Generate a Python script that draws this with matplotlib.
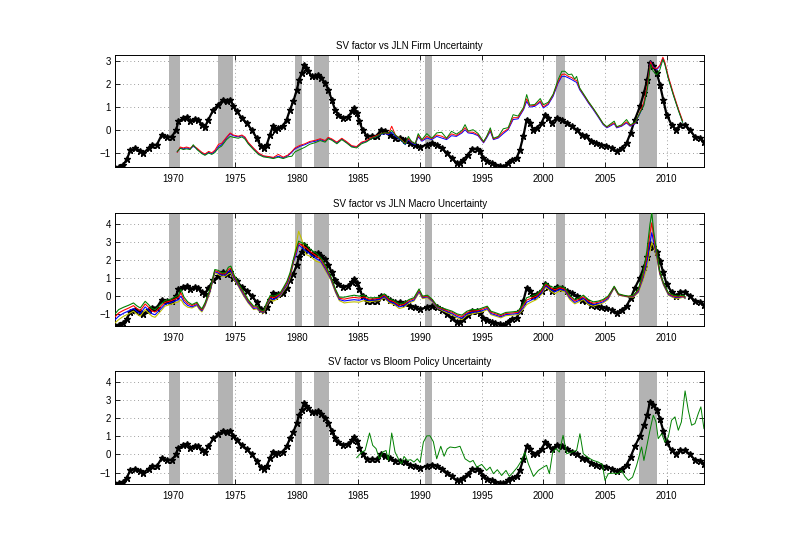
import matplotlib
matplotlib.use('Agg')
from matplotlib import pyplot as plt

plt.rcParams['font.family'] = ['Liberation Sans', 'DejaVu Sans']

# NBER recession bands (as drawn)
recessions = [(1969.6, 1970.55), (1973.6, 1974.85), (1979.85, 1980.4), (1981.4, 1982.6),
              (1990.4, 1990.95), (2001.05, 2001.75), (2007.75, 2009.25)]

# SV factor (black line, same in every panel)
sv_years = [1965.26, 1965.6, 1965.94, 1966.2, 1966.5, 1966.9, 1967.3, 1967.56, 1967.97, 1968.24,
            1968.64, 1969.05, 1969.45, 1969.86, 1970.2, 1970.4, 1970.8, 1971.07, 1971.35, 1971.75,
            1972.0, 1972.3, 1972.55, 1972.83, 1973.24, 1973.64, 1974.05, 1974.3, 1974.6, 1974.86,
            1975.13, 1975.53, 1975.94, 1976.34, 1976.75, 1977.07, 1977.3, 1977.56, 1977.83, 1978.05,
            1978.24, 1978.5, 1978.86, 1979.18, 1979.45, 1979.72, 1980.0, 1980.2, 1980.4, 1980.6,
            1980.75, 1980.94, 1981.2, 1981.48, 1981.75, 1982.0, 1982.3, 1982.56, 1982.83, 1983.1,
            1983.37, 1983.77, 1984.18, 1984.45, 1984.64, 1984.86, 1985.07, 1985.34, 1985.67, 1986.07,
            1986.48, 1986.8, 1987.16, 1987.56, 1987.97, 1988.38, 1988.78, 1989.19, 1989.6, 1990.0,
            1990.54, 1990.95, 1991.35, 1991.76, 1992.16, 1992.57, 1992.97, 1993.24, 1993.5, 1993.9,
            1994.2, 1994.6, 1994.86, 1995.1, 1995.4, 1995.8, 1996.1, 1996.5, 1996.76, 1997.1,
            1997.43, 1997.84, 1998.1, 1998.38, 1998.65, 1998.9, 1999.2, 1999.46, 1999.86, 2000.14,
            2000.4, 2000.68, 2001.08, 2001.5, 2001.9, 2002.3, 2002.7, 2003.1, 2003.5, 2003.9,
            2004.3, 2004.7, 2005.1, 2005.54, 2005.95, 2006.35, 2006.76, 2007.08, 2007.43, 2007.84,
            2008.16, 2008.43, 2008.65, 2008.92, 2009.2, 2009.46, 2009.73, 2010.0, 2010.4, 2010.8,
            2011.08, 2011.5, 2011.9, 2012.3, 2012.7, 2013.05]
sv_values = [-1.65, -1.6, -1.5, -1.28, -0.88, -0.8, -0.9, -1.0, -0.8, -0.65,
             -0.65, -0.2, -0.3, -0.3, 0.0, 0.37, 0.5, 0.55, 0.37, 0.48,
             0.45, 0.23, 0.13, 0.45, 0.88, 1.1, 1.31, 1.24, 1.31, 1.02,
             0.81, 0.52, 0.3, 0.0, -0.35, -0.7, -0.78, -0.64, -0.2, 0.16,
             0.0, 0.09, 0.16, 0.45, 0.88, 1.24, 1.74, 2.18, 2.47, 2.83,
             2.68, 2.54, 2.32, 2.32, 2.39, 2.25, 2.03, 1.74, 1.31, 0.88,
             0.66, 0.52, 0.56, 0.8, 0.95, 0.74, 0.37, 0.0, -0.27, -0.27,
             -0.27, 0.0, -0.06, -0.2, -0.35, -0.35, -0.42, -0.56, -0.64, -0.74,
             -0.64, -0.56, -0.64, -0.78, -1.0, -1.21, -1.43, -1.43, -1.29, -1.07,
             -0.82, -0.82, -0.93, -1.21, -1.36, -1.43, -1.5, -1.57, -1.6, -1.43,
             -1.29, -1.21, -0.85, -0.27, 0.45, 0.3, 0.0, 0.09, 0.3, 0.66,
             0.52, 0.3, 0.52, 0.45, 0.3, 0.16, 0.0, -0.2, -0.27, -0.49,
             -0.56, -0.64, -0.68, -0.78, -0.93, -0.78, -0.56, -0.13, 0.45, 1.02,
             1.6, 2.18, 2.9, 2.75, 2.47, 1.96, 1.31, 0.66, 0.23, 0.0,
             0.23, 0.23, 0.0, -0.3, -0.35, -0.53]

# JLN firm uncertainty
firm_years = [1970.3, 1970.55, 1970.8,
              1971.05, 1971.35, 1971.6, 1971.9,
              1972.3, 1972.55, 1972.85,
              1973.1, 1973.35, 1973.65, 1973.9,
              1974.3, 1974.6, 1974.85,
              1975.25, 1975.55, 1975.8,
              1976.05, 1976.5, 1976.9,
              1977.3, 1977.7,
              1978.1, 1978.5, 1978.9,
              1979.3, 1979.6, 1979.85,
              1980.25, 1980.65,
              1981.05, 1981.5, 1981.9,
              1982.3, 1982.55, 1982.85,
              1983.25, 1983.65,
              1984.05, 1984.45, 1984.85,
              1985.25, 1985.65,
              1986.1, 1986.5, 1986.8,
              1987.15, 1987.45, 1987.7,
              1988.0, 1988.4, 1988.8,
              1989.05, 1989.3, 1989.6, 1989.85,
              1990.15, 1990.55, 1990.95,
              1991.35, 1991.75,
              1992.15, 1992.55, 1992.95,
              1993.4, 1993.65, 1993.9,
              1994.3, 1994.7,
              1995.15, 1995.4, 1995.7, 1995.95,
              1996.35, 1996.75,
              1997.15, 1997.55, 1997.95,
              1998.4, 1998.65, 1998.9,
              1999.3, 1999.75,
              2000.0, 2000.4, 2000.8,
              2001.2, 2001.5, 2001.75,
              2002.05, 2002.3, 2002.55, 2002.7, 2002.95,
              2003.4, 2003.65,
              2004.05, 2004.45, 2004.85,
              2005.15, 2005.4, 2005.75, 2005.95,
              2006.35, 2006.75,
              2007.05, 2007.45, 2007.85,
              2008.15, 2008.45, 2008.7, 2008.9,
              2009.2, 2009.45, 2009.7, 2009.85,
              2010.15, 2010.55, 2010.95,
              2011.3]
firm_blue = [-0.95, -0.78, -0.82,
             -0.78, -0.82, -0.71, -0.82,
             -1.0, -1.07, -0.97,
             -1.03, -0.93, -0.71, -0.64,
             -0.35, -0.16, -0.25,
             -0.3, -0.25, -0.35,
             -0.56, -0.82, -1.03,
             -1.14, -1.17,
             -1.21, -1.14, -1.21,
             -1.11, -0.97, -0.82,
             -0.71, -0.64,
             -0.54, -0.49, -0.42,
             -0.49, -0.35, -0.42,
             -0.56, -0.39,
             -0.54, -0.71, -0.74,
             -0.56, -0.49,
             -0.35, -0.28, -0.2,
             -0.16, -0.2, -0.1,
             -0.28, -0.42, -0.64,
             -0.42, -0.56, -0.64, -0.3,
             -0.49, -0.35, -0.42,
             -0.28, -0.35,
             -0.42, -0.25, -0.28,
             -0.13, 0.01, -0.13,
             -0.16, -0.25,
             -0.56, -0.35, -0.06, -0.42,
             -0.35, -0.16,
             0.01, 0.45, 0.48,
             0.88, 1.24, 0.99,
             1.02, 1.2,
             0.95, 1.1, 1.46,
             2.03, 2.32, 2.32,
             2.25, 2.18, 2.1, 2.06, 1.74,
             1.38, 1.17,
             0.88, 0.56, 0.23,
             0.09, 0.16, 0.27, 0.09,
             0.16, 0.3,
             0.16, 0.27, 0.73,
             1.1, 1.89, 2.97, 2.75,
             2.61, 2.75, 3.1, 2.9,
             2.25, 1.53, 0.88,
             0.35]
firm_red = [-0.97, -0.74, -0.78,
            -0.74, -0.79, -0.68, -0.79,
            -0.97, -1.04, -0.93,
            -0.99, -0.88, -0.62, -0.58,
            -0.31, -0.13, -0.22,
            -0.27, -0.22, -0.31,
            -0.53, -0.79, -1.0,
            -1.12, -1.15,
            -1.19, -1.06, -1.18,
            -1.08, -0.93, -0.78,
            -0.67, -0.6,
            -0.5, -0.45, -0.38,
            -0.46, -0.32, -0.39,
            -0.53, -0.36,
            -0.51, -0.68, -0.72,
            -0.53, -0.46,
            -0.32, -0.24, -0.17,
            -0.12, -0.16, 0.16,
            -0.22, -0.38, -0.6,
            -0.37, -0.52, -0.6, -0.24,
            -0.45, -0.28, -0.38,
            -0.22, -0.27,
            -0.38, -0.17, -0.24,
            -0.08, 0.1, -0.09,
            -0.1, -0.21,
            -0.53, -0.3, 0.0, -0.39,
            -0.31, -0.09,
            0.05, 0.53, 0.53,
            0.93, 1.35, 1.04,
            1.06, 1.26,
            1.0, 1.15, 1.52,
            2.09, 2.4, 2.42,
            2.31, 2.27, 2.16, 2.15, 1.79,
            1.42, 1.21,
            0.92, 0.6, 0.27,
            0.12, 0.2, 0.31, 0.12,
            0.19, 0.35,
            0.19, 0.3, 0.78,
            1.18, 1.95, 2.95, 2.7,
            2.65, 2.8, 3.15, 2.95,
            2.3, 1.58, 0.92,
            0.4]
firm_green = [-0.93, -0.8, -0.85,
              -0.82, -0.85, -0.64, -0.85,
              -1.03, -1.1, -1.0,
              -1.06, -0.98, -0.78, -0.7,
              -0.42, -0.28, -0.32,
              -0.36, -0.3, -0.4,
              -0.6, -0.86, -1.07,
              -1.17, -1.2,
              -1.24, -1.18, -1.24,
              -1.16, -1.14, -0.95,
              -0.85, -0.75,
              -0.62, -0.55, -0.46,
              -0.53, -0.38, -0.45,
              -0.6, -0.42,
              -0.57, -0.74, -0.78,
              -0.6, -0.52,
              -0.36, -0.28, -0.18,
              -0.12, -0.14, -0.02,
              -0.22, -0.4, -0.62,
              -0.28, -0.5, -0.6, -0.16,
              -0.42, -0.16, -0.36,
              -0.13, -0.1,
              -0.36, -0.06, -0.18,
              -0.02, 0.23, -0.05,
              0.01, -0.15,
              -0.5, -0.28, 0.09, -0.36,
              -0.28, 0.05,
              0.1, 0.66, 0.6,
              0.98, 1.53, 1.08,
              1.1, 1.36,
              1.09, 1.2, 1.55,
              2.18, 2.54, 2.54,
              2.39, 2.42, 2.2, 2.32, 1.82,
              1.45, 1.24,
              0.94, 0.62, 0.28,
              0.14, 0.24, 0.38, 0.14,
              0.22, 0.45,
              0.22, 0.33, 0.75,
              1.05, 1.8, 2.85, 2.55,
              2.39, 2.6, 3.05, 2.85,
              2.2, 1.5, 0.85,
              0.33]

# JLN macro uncertainty (top, two inner, bottom lines of the bundle)
macro_years = [1965.25, 1965.55, 1965.95, 1966.35, 1966.75, 1967.0, 1967.3, 1967.7, 1967.97,
               1968.25, 1968.5, 1968.9, 1969.3, 1969.7, 1970.1, 1970.4, 1970.6, 1970.85,
               1971.15, 1971.5, 1971.9, 1972.1, 1972.3, 1972.55, 1972.95, 1973.35, 1973.65,
               1973.9, 1974.2, 1974.45, 1974.65, 1974.9, 1975.25, 1975.65, 1976.05, 1976.5,
               1976.75, 1977.0, 1977.3, 1977.55, 1977.85, 1978.1, 1978.35, 1978.65, 1978.9,
               1979.2, 1979.45, 1979.75, 1979.95, 1980.15, 1980.4, 1980.75, 1981.1, 1981.55,
               1981.95, 1982.35, 1982.75, 1983.15, 1983.45, 1983.85, 1984.25, 1984.65, 1985.05,
               1985.45, 1985.85, 1986.25, 1986.7, 1987.1, 1987.5, 1987.9, 1988.3, 1988.7,
               1989.1, 1989.5, 1989.92, 1990.2, 1990.6, 1991.0, 1991.4, 1991.8, 1992.2,
               1992.6, 1993.0, 1993.4, 1993.8, 1994.2, 1994.65, 1995.05, 1995.45, 1995.75,
               1996.15, 1996.55, 1996.95, 1997.45, 1997.95, 1998.35, 1998.65, 1999.05, 1999.45,
               1999.85, 2000.2, 2000.55, 2000.95, 2001.35, 2001.75, 2002.15, 2002.55, 2002.9,
               2003.25, 2003.65, 2004.05, 2004.45, 2004.85, 2005.25, 2005.6, 2005.75, 2006.1,
               2006.5, 2006.9, 2007.3, 2007.7, 2008.1, 2008.4, 2008.65, 2008.8, 2008.95,
               2009.2, 2009.45, 2009.75, 2010.15, 2010.55, 2010.95, 2011.35, 2011.5]
macro_green = [-1.0, -0.76, -0.63, -0.52, -0.39, -0.54, -0.67, -0.3, -0.48,
               -0.7, -0.76, -0.52, -0.26, -0.2, -0.07, 0.04, 0.36, -0.07,
               -0.33, -0.48, -0.35, -0.57, -0.72, -0.39, 0.36, 1.47, 1.42,
               1.29, 1.29, 1.6, 1.66, 1.19, 0.73, 0.26, -0.2, -0.57,
               -0.54, -0.76, -0.85, -0.39, 0.04, -0.01, 0.04, 0.17, 0.45,
               0.82, 1.29, 2.12, 2.6, 3.05, 2.96, 2.87, 2.59, 2.4,
               2.12, 1.66, 1.1, 0.36, -0.07, -0.07, -0.01, 0.04, -0.01,
               0.04, -0.1, -0.1, -0.07, 0.12, -0.15, -0.26, -0.44, -0.39,
               -0.2, -0.1, 0.39, -0.01, 0.04, -0.2, -0.57, -0.67, -0.76,
               -0.85, -1.0, -1.07, -0.85, -0.76, -0.76, -0.67, -0.57, -0.85,
               -0.94, -1.04, -0.92, -0.89, -0.85, -0.48, -0.1, -0.01, 0.08,
               0.36, 0.73, 0.54, 0.45, 0.54, 0.45, 0.04, -0.2, -0.1,
               0.04, -0.2, -0.33, -0.29, -0.2, -0.01, 0.36, 0.54, 0.12,
               0.04, -0.01, 0.04, 0.36, 1.29, 2.5, 3.98, 4.63, 3.6,
               2.5, 1.38, 0.73, 0.17, 0.04, -0.01, 0.04, -0.05]
macro_red = [-1.17, -0.95, -0.8, -0.68, -0.54, -0.69, -0.82, -0.45, -0.63,
             -0.84, -0.9, -0.64, -0.36, -0.29, -0.18, -0.08, 0.17, -0.21,
             -0.43, -0.54, -0.41, -0.63, -0.78, -0.45, 0.3, 1.41, 1.34,
             1.23, 1.23, 1.48, 1.54, 1.1, 0.67, 0.19, -0.26, -0.63,
             -0.6, -0.8, -0.89, -0.44, -0.04, -0.1, -0.04, 0.11, 0.39,
             0.73, 1.19, 2.03, 2.45, 2.95, 2.82, 2.68, 2.46, 2.25,
             2.03, 1.57, 1.04, 0.3, -0.13, -0.18, -0.12, -0.08, -0.12,
             -0.06, -0.18, -0.16, -0.13, 0.05, -0.23, -0.33, -0.53, -0.47,
             -0.26, -0.16, 0.32, -0.06, -0.01, -0.24, -0.6, -0.72, -0.82,
             -0.91, -1.07, -1.15, -0.92, -0.84, -0.82, -0.74, -0.63, -0.91,
             -1.0, -1.1, -0.98, -0.95, -0.91, -0.57, -0.23, -0.12, -0.01,
             0.27, 0.65, 0.46, 0.34, 0.46, 0.38, -0.04, -0.28, -0.18,
             -0.04, -0.29, -0.41, -0.35, -0.26, -0.07, 0.33, 0.51, 0.09,
             0.02, -0.03, 0.0, 0.3, 1.16, 2.19, 3.49, 4.07, 3.32,
             2.37, 1.32, 0.69, 0.13, -0.01, -0.06, 0.0, -0.08]
macro_blue = [-1.33, -1.13, -0.96, -0.84, -0.7, -0.85, -0.98, -0.61, -0.79,
              -0.99, -1.05, -0.77, -0.47, -0.39, -0.28, -0.21, -0.01, -0.34,
              -0.53, -0.61, -0.48, -0.7, -0.83, -0.51, 0.23, 1.35, 1.27,
              1.16, 1.16, 1.35, 1.41, 1.0, 0.6, 0.11, -0.33, -0.7,
              -0.66, -0.85, -0.92, -0.49, -0.12, -0.2, -0.12, 0.05, 0.32,
              0.63, 1.1, 1.93, 2.3, 2.85, 2.7, 2.5, 2.33, 2.09,
              1.93, 1.47, 0.97, 0.23, -0.2, -0.28, -0.24, -0.21, -0.24,
              -0.16, -0.25, -0.23, -0.2, -0.03, -0.31, -0.41, -0.61, -0.55,
              -0.33, -0.23, 0.24, -0.1, -0.05, -0.29, -0.64, -0.76, -0.88,
              -0.98, -1.15, -1.24, -1.0, -0.92, -0.88, -0.82, -0.7, -0.98,
              -1.07, -1.16, -1.04, -1.01, -0.98, -0.67, -0.35, -0.22, -0.11,
              0.17, 0.57, 0.38, 0.23, 0.38, 0.3, -0.12, -0.36, -0.25,
              -0.12, -0.39, -0.49, -0.42, -0.33, -0.14, 0.29, 0.48, 0.07,
              0.01, -0.05, -0.03, 0.23, 1.04, 1.87, 2.99, 3.52, 3.05,
              2.25, 1.25, 0.64, 0.08, -0.05, -0.1, -0.03, -0.12]
macro_olive = [-1.5, -1.32, -1.13, -1.0, -0.85, -1.0, -1.13, -0.76, -0.94,
               -1.13, -1.19, -0.89, -0.57, -0.48, -0.39, -0.33, -0.2, -0.48,
               -0.63, -0.67, -0.54, -0.76, -0.89, -0.57, 0.17, 1.29, 1.19,
               1.1, 1.1, 1.23, 1.29, 0.91, 0.54, 0.04, -0.39, -0.76,
               -0.72, -0.89, -0.96, -0.54, -0.2, -0.29, -0.2, -0.01, 0.26,
               0.54, 1.0, 1.84, 2.9, 3.6, 3.15, 2.31, 2.2, 1.94,
               1.84, 1.38, 0.91, 0.17, -0.26, -0.39, -0.35, -0.33, -0.35,
               -0.26, -0.33, -0.29, -0.26, -0.1, -0.39, -0.48, -0.7, -0.63,
               -0.39, -0.29, 0.17, -0.15, -0.1, -0.33, -0.67, -0.81, -0.94,
               -1.04, -1.22, -1.32, -1.07, -1.0, -0.94, -0.89, -0.76, -1.04,
               -1.13, -1.22, -1.1, -1.07, -1.04, -0.76, -0.48, -0.33, -0.2,
               0.08, 0.49, 0.3, 0.12, 0.3, 0.23, -0.2, -0.44, -0.33,
               -0.2, -0.48, -0.57, -0.48, -0.39, -0.2, 0.26, 0.45, 0.04,
               -0.01, -0.07, -0.07, 0.17, 0.91, 1.56, 2.5, 2.96, 2.77,
               2.12, 1.19, 0.6, 0.04, -0.1, -0.15, -0.07, -0.15]

# Bloom policy uncertainty
bloom_years = [1984.86, 1985.27, 1985.54, 1985.9, 1986.16, 1986.43, 1986.7, 1986.97, 1987.24, 1987.43,
               1987.7, 1987.97, 1988.24, 1988.5, 1988.7, 1988.97, 1989.24, 1989.5, 1989.78, 1990.0,
               1990.27, 1990.54, 1990.8, 1991.08, 1991.35, 1991.68, 1991.95, 1992.2, 1992.43, 1992.84,
               1993.24, 1993.65, 1994.05, 1994.3, 1994.6, 1995.0, 1995.4, 1995.68, 1995.95, 1996.27,
               1996.62, 1996.97, 1997.24, 1997.57, 1997.9, 1998.24, 1998.5, 1998.78, 1999.2, 1999.6,
               2000.0, 2000.27, 2000.49, 2000.76, 2001.03, 2001.3, 2001.6, 2001.9, 2002.3, 2002.7,
               2002.97, 2003.24, 2003.65, 2004.05, 2004.46, 2004.8, 2005.0, 2005.27, 2005.68, 2006.08,
               2006.35, 2006.62, 2006.9, 2007.24, 2007.57, 2007.97, 2008.16, 2008.38, 2008.65, 2008.92,
               2009.14, 2009.32, 2009.6, 2009.86, 2010.14, 2010.4, 2010.68, 2010.95, 2011.2, 2011.5,
               2011.76, 2012.03, 2012.3, 2012.57, 2012.78, 2013.03]
bloom_values = [-0.18, 0.13, 0.22, 1.18, 0.5, 0.32, -0.24, 0.13, 0.22, -0.33,
                1.18, 0.13, -0.24, -0.51, -0.11, -0.33, -0.29, -0.42, -0.24, -0.45,
                0.68, 1.02, 1.03, 0.7, -0.24, 0.45, -0.1, 0.3, 0.41, 0.37,
                0.45, -0.24, -0.42, -0.33, -0.7, -0.55, -0.88, -0.7, -1.06, -0.84,
                -1.16, -0.88, -1.21, -0.97, -0.7, -0.33, 0.13, -0.51, -1.21, -0.88,
                -0.7, -0.6, -1.06, 0.13, 0.32, 0.13, 1.05, 0.04, 0.13, 0.22,
                1.14, 0.04, -0.18, -0.33, -0.42, -0.57, -1.43, -1.06, -1.03, -1.06,
                -0.88, -1.21, -1.43, -1.25, -0.6, 0.41, -0.33, 0.41, 1.33, 2.16,
                1.79, 0.87, 1.14, 0.68, 0.96, 1.88, 2.07, 1.33, 1.79, 3.5,
                2.43, 1.61, 1.7, 2.25, 2.62, 1.42]

GREEN = (0, 0.5, 0)
RED = (1, 0, 0)
BLUE = (0, 0, 1)
OLIVE = (0.75, 0.75, 0)


def setup(ax, ylim, title):
    for a, b in recessions:
        ax.axvspan(a, b, color='0.7', lw=0, zorder=1)
    ax.set_xlim(1965.25, 2013.05)
    ax.set_ylim(ylim)
    ax.set_xticks(range(1970, 2011, 5))
    ax.set_yticks(range(-1, int(ylim[1]) + 1))
    ax.set_axisbelow(True)
    ax.grid(True, linestyle=(0, (1, 3.5)), color='0.5', linewidth=0.6)
    ax.tick_params(direction='in', top=True, right=True, length=3.5, width=0.6, labelsize=7)
    ax.tick_params(axis='x', pad=5)
    ax.tick_params(axis='y', pad=3)
    for s in ax.spines.values():
        s.set_linewidth(0.7)
    ax.set_title(title, fontsize=7, pad=4)


def black_line(ax):
    ax.plot(sv_years, sv_values, '-', color='k', lw=1.6, marker='*', ms=5, mew=1.0, zorder=3)


fig = plt.figure(figsize=(7.93, 5.6), dpi=100)

ax1 = fig.add_axes([0.145, 0.702, 0.743, 0.2])
black_line(ax1)
for vals, c in [(firm_blue, BLUE), (firm_red, RED), (firm_green, GREEN)]:
    ax1.plot(firm_years, vals, color=c, lw=0.7, zorder=4)
setup(ax1, (-1.6, 3.25), 'SV factor vs JLN Firm Uncertainty')

ax2 = fig.add_axes([0.145, 0.418, 0.743, 0.202])
black_line(ax2)
for vals, c in [(macro_olive, OLIVE), (macro_blue, BLUE), (macro_red, RED), (macro_green, GREEN)]:
    ax2.plot(macro_years, vals, color=c, lw=0.8, zorder=4)
setup(ax2, (-1.67, 4.63), 'SV factor vs JLN Macro Uncertainty')

ax3 = fig.add_axes([0.145, 0.136, 0.743, 0.2016])
black_line(ax3)
ax3.plot(bloom_years, bloom_values, color=GREEN, lw=0.7, zorder=4)
setup(ax3, (-1.62, 4.6), 'SV factor vs Bloom Policy Uncertainty')

fig.savefig('out.png', dpi=100)
